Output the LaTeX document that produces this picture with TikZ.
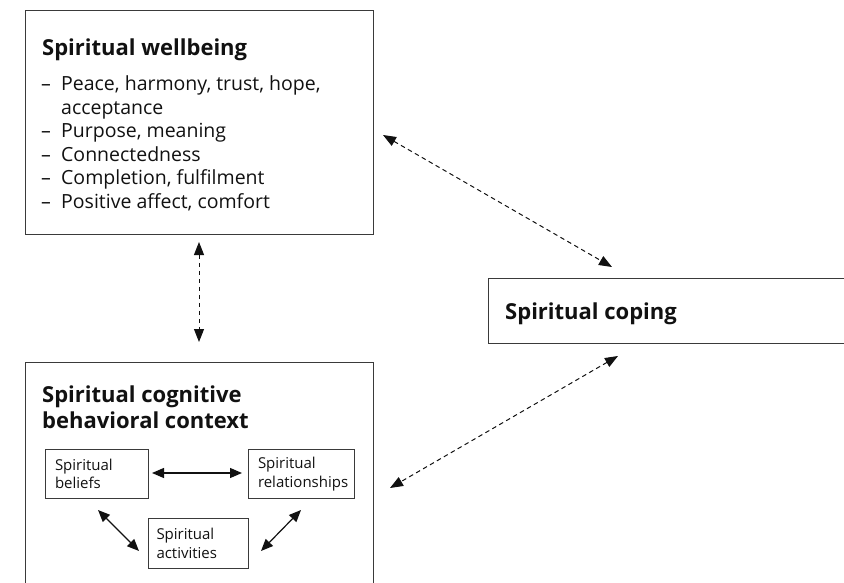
\documentclass[tikz,border=0pt]{standalone}
\usepackage{fontspec}
\setmainfont{Open Sans}
\usetikzlibrary{arrows.meta}
\definecolor{boxline}{HTML}{3A3A3A}
\definecolor{ink}{HTML}{111111}
\newcommand{\itemdash}{\makebox[20pt][l]{–}}
\tikzset{
  x=1pt, y=-1pt,
  bigbox/.style={draw=boxline, line width=1.2pt, rectangle, inner sep=0pt, anchor=north west},
  smallbox/.style={draw=boxline, line width=1pt, rectangle, anchor=north west, inner xsep=9.5pt, inner ysep=0pt, align=left, font=\fontsize{15}{18.5}\selectfont, text=ink},
  titletext/.style={font=\fontsize{22}{25.5}\selectfont\bfseries, text=ink, anchor=base west, inner sep=0pt, align=left},
  dasharrow/.style={draw=ink, line width=1pt, dash pattern=on 4.5pt off 3.5pt, {Triangle[length=13pt,width=10pt]}-{Triangle[length=13pt,width=10pt]}},
  solidarrow/.style={draw=ink, line width=1.2pt, {Triangle[length=12pt,width=10pt]}-{Triangle[length=12pt,width=10pt]}}
}
\begin{document}
\begin{tikzpicture}
\useasboundingbox (0,0) rectangle (844,583);
\clip (0,0) rectangle (844,583);
% Spiritual wellbeing box
\node[bigbox, minimum width=348pt, minimum height=224pt] (wb) at (25,10) {};
\node[titletext] (wbtitle) at (42,56) {Spiritual wellbeing};
\node[anchor=base west, inner sep=0pt, align=left, text=ink, font=\fontsize{19.5}{23.5}\selectfont] (wblist) at (41,208)
 {\itemdash Peace, harmony, trust, hope,\\
  \hphantom{\itemdash}acceptance\\
  \itemdash Purpose, meaning\\
  \itemdash Connectedness\\
  \itemdash Completion, fulfilment\\
  \itemdash Positive affect, comfort};
% Spiritual coping box
\node[bigbox, minimum width=370pt, minimum height=65pt] (sc) at (488,278) {};
\node[titletext] (sctitle) at (505,319) {Spiritual coping};
% Cognitive behavioural context box
\node[bigbox, minimum width=348pt, minimum height=240pt] (cb) at (25,362) {};
\node[titletext] (cbtitle) at (42,428) {Spiritual cognitive\\behavioral context};
% inner boxes
\node[smallbox, minimum width=103pt, minimum height=49pt, text width=84pt] (bel) at (45,449) {Spiritual\\beliefs};
\node[smallbox, minimum width=106pt, minimum height=49pt, text width=87pt] (rel) at (248,449) {Spiritual\\relationships};
\node[smallbox, minimum width=100pt, minimum height=50pt, text width=84pt, inner xsep=8pt] (act) at (148,518) {Spiritual\\activities};
% connector end points
\coordinate (wbS) at (199,242);
\coordinate (cbN) at (199,342);
\coordinate (wbE) at (383,135);
\coordinate (scNW) at (612,267);
\coordinate (scSW) at (618,356);
\coordinate (cbE) at (390,488);
\coordinate (belE) at (152,473);
\coordinate (relW) at (242,473);
\coordinate (belS) at (98,510);
\coordinate (actNW) at (139,551);
\coordinate (relS) at (301,510);
\coordinate (actNE) at (261,551);
% dashed connectors
\draw[dasharrow] (wbS) -- (cbN);
\draw[dasharrow] (wbE) -- (scNW);
\draw[dasharrow] (scSW) -- (cbE);
% solid connectors
\draw[solidarrow] (belE) -- (relW);
\draw[solidarrow] (belS) -- (actNW);
\draw[solidarrow] (relS) -- (actNE);
\end{tikzpicture}
\end{document}
